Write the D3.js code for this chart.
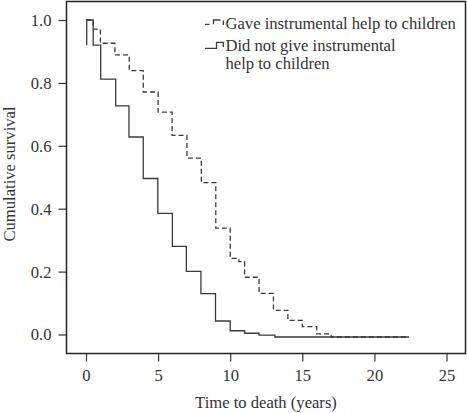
<!DOCTYPE html>
<html>
<head>
<meta charset="utf-8">
<script src="https://cdn.jsdelivr.net/npm/d3@7"></script>
<style>
  html, body { margin: 0; padding: 0; background: #fff; }
  svg { display: block; }
  text { font-family: "Liberation Serif", "DejaVu Serif", serif; fill: #333; }
</style>
</head>
<body>
<svg id="chart" width="467" height="413"></svg>
<script>
// Data
// "Gave instrumental help to children" (dashed): step times (years) and survival after each step
const gaveTimes = [0, 0.5, 1.0, 2.0, 3.0, 3.97, 5.0, 5.97, 7.0, 8.0, 9.0, 10.0, 10.6, 11.0, 12.0, 13.0, 14.0, 15.0, 16.0, 17.0, 22.4];
const gaveSurv  = [1.0, 0.971, 0.926, 0.889, 0.839, 0.771, 0.707, 0.633, 0.561, 0.483, 0.338, 0.242, 0.232, 0.182, 0.131, 0.077, 0.045, 0.025, 0.002, -0.008, -0.008];
// "Did not give instrumental help to children" (solid)
const notTimes = [0.05, 0.05, 0.5, 1.02, 2.06, 2.98, 3.97, 4.98, 5.99, 6.96, 7.97, 8.98, 10.0, 11.0, 12.0, 13.1, 22.4];
const notSurv  = [0.92, 1.0, 0.92, 0.812, 0.727, 0.628, 0.496, 0.385, 0.28, 0.201, 0.13, 0.043, 0.012, 0.004, -0.002, -0.008, -0.008];

const xTicks = [0, 5, 10, 15, 20, 25];
const yTicks = [0, 0.2, 0.4, 0.6, 0.8, 1.0];
const legendLabels = ["Gave instrumental help to children", "Did not give instrumental", "help to children"];
const xTitle = "Time to death (years)";
const yTitle = "Cumulative survival";

const FS = 16.6;
const svg = d3.select("#chart");
const x = d3.scaleLinear().domain([0, 25]).range([86, 446.5]);
const y = d3.scaleLinear().domain([0, 1]).range([334.5, 20]);

const box = { left: 66.5, right: 465.5, top: 1.5, bottom: 353.5 };

// Axes
const xAxis = svg.append("g")
  .attr("transform", `translate(0,${box.bottom})`)
  .call(d3.axisBottom(x).tickValues(xTicks).tickSize(8).tickPadding(4).tickFormat(d3.format("d")));
xAxis.select(".domain").remove();
xAxis.selectAll("line").attr("stroke", "#333").attr("stroke-width", 1.2);
xAxis.selectAll("text").attr("font-size", FS).attr("font-family", "Liberation Serif").attr("fill", "#333").attr("dy", "0.95em");

const yAxis = svg.append("g")
  .attr("transform", `translate(${box.left},0)`)
  .call(d3.axisLeft(y).tickValues(yTicks).tickSize(8).tickPadding(7).tickFormat(d3.format(".1f")));
yAxis.select(".domain").remove();
yAxis.selectAll("line").attr("stroke", "#333").attr("stroke-width", 1.2);
yAxis.selectAll("text").attr("font-size", FS).attr("font-family", "Liberation Serif").attr("fill", "#333").attr("dy", "0.33em");

// Plot box
svg.append("rect")
  .attr("x", box.left).attr("y", box.top)
  .attr("width", box.right - box.left).attr("height", box.bottom - box.top)
  .attr("fill", "none").attr("stroke", "#222").attr("stroke-width", 1.5);

// Curves
const line = d3.line().x(d => x(d[0])).y(d => y(d[1])).curve(d3.curveStepAfter);
const gave = gaveTimes.map((t, i) => [t, gaveSurv[i]]);
const not = notTimes.map((t, i) => [t, notSurv[i]]);

svg.append("path").datum(not).attr("d", line)
  .attr("fill", "none").attr("stroke", "#3a3a3a").attr("stroke-width", 1.3);
svg.append("path").datum(gave).attr("d", line)
  .attr("fill", "none").attr("stroke", "#3a3a3a").attr("stroke-width", 1.3)
  .attr("stroke-dasharray", "5,3");

// Legend
svg.append("path").attr("d", "M205,24.3H209.5M213.5,24.3V20H220.5M223.3,20.5V25")
  .attr("fill", "none").attr("stroke", "#3a3a3a").attr("stroke-width", 1.3);
svg.append("path").attr("d", "M205,48.3H216.5V42.3H223.3V47")
  .attr("fill", "none").attr("stroke", "#3a3a3a").attr("stroke-width", 1.3);

svg.append("text").attr("x", 225.5).attr("y", 28.5).attr("font-size", FS).text(legendLabels[0]);
svg.append("text").attr("x", 225.5).attr("y", 50.5).attr("font-size", FS).text(legendLabels[1]);
svg.append("text").attr("x", 225.5).attr("y", 68.5).attr("font-size", FS).text(legendLabels[2]);

// Titles
svg.append("text").attr("x", 266).attr("y", 407.5).attr("text-anchor", "middle")
  .attr("font-size", FS).text(xTitle);
svg.append("text").attr("transform", "translate(15,174) rotate(-90)").attr("text-anchor", "middle")
  .attr("font-size", FS).text(yTitle);
</script>
</body>
</html>
